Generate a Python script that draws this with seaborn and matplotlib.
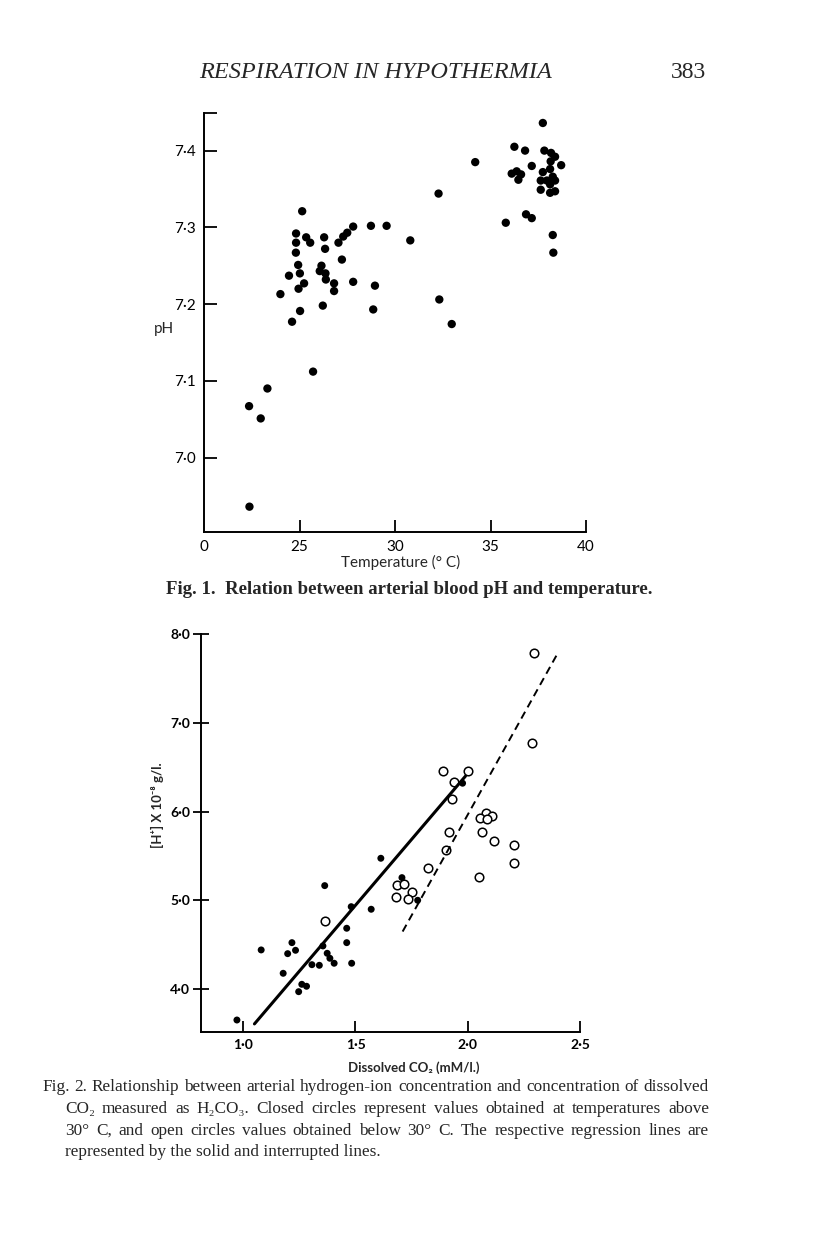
import matplotlib
matplotlib.use('Agg')
import matplotlib.pyplot as plt
import pandas as pd
import seaborn as sns

# Fig. 1: arterial pH vs temperature (deg C)
temp_c = [37.74, 36.25, 36.81, 37.82, 38.17, 38.38, 38.15, 34.20, 37.16, 38.70,
          38.12, 36.11, 36.37, 36.60, 36.46, 37.74, 38.26, 37.95, 37.63, 38.38,
          38.12, 37.63, 38.12, 38.38, 32.28, 35.80, 36.86, 37.16, 38.26, 38.29,
          25.14, 24.82, 24.82, 25.35, 25.56, 26.29, 26.34, 27.04, 27.29, 27.50,
          27.81, 28.74, 29.56, 30.80, 24.81, 24.93, 26.15, 27.22, 24.45, 25.02,
          26.06, 26.36, 26.38, 25.24, 24.95, 26.81, 26.81, 27.81, 28.95, 24.00,
          32.32, 25.03, 26.22, 24.61, 28.86, 32.97, 25.71, 23.32, 22.36, 22.97,
          22.38]
ph = [7.436, 7.405, 7.400, 7.400, 7.397, 7.392, 7.386, 7.385, 7.380, 7.381,
      7.376, 7.370, 7.373, 7.369, 7.362, 7.372, 7.366, 7.361, 7.361, 7.361,
      7.356, 7.349, 7.345, 7.347, 7.344, 7.306, 7.317, 7.312, 7.290, 7.267,
      7.321, 7.292, 7.280, 7.287, 7.280, 7.287, 7.272, 7.280, 7.288, 7.293,
      7.301, 7.302, 7.302, 7.283, 7.267, 7.251, 7.250, 7.258, 7.237, 7.240,
      7.243, 7.240, 7.232, 7.227, 7.220, 7.227, 7.217, 7.229, 7.224, 7.213,
      7.206, 7.191, 7.198, 7.177, 7.193, 7.174, 7.112, 7.090, 7.067, 7.051,
      6.936]
temp_ticks = [20, 25, 30, 35, 40]
temp_labels = ['0', '25', '30', '35', '40']
ph_ticks = [7.0, 7.1, 7.2, 7.3, 7.4, 7.449]
ph_labels = ['7·0', '7·1', '7·2', '7·3', '7·4', '']

# Fig. 2: [H+] vs dissolved CO2, closed = above 30 C, open = below 30 C
co2_closed = [1.977, 1.613, 1.707, 1.363, 1.777, 1.481, 1.570, 1.461, 1.461, 1.355,
              1.217, 1.080, 1.198, 1.233, 1.374, 1.386, 1.405, 1.306, 1.339, 1.483,
              1.178, 1.261, 1.282, 1.247, 0.972]
h_closed = [6.320, 5.475, 5.257, 5.167, 5.002, 4.930, 4.901, 4.687, 4.525, 4.488,
            4.525, 4.443, 4.401, 4.439, 4.405, 4.349, 4.293, 4.277, 4.270, 4.293,
            4.180, 4.056, 4.034, 3.973, 3.654]
co2_open = [2.296, 2.287, 1.891, 2.002, 1.939, 1.930, 2.080, 2.054, 2.109, 2.084,
            1.916, 2.065, 2.117, 2.207, 1.903, 2.206, 1.824, 2.051, 1.683, 1.716,
            1.751, 1.679, 1.732, 1.364]
h_open = [7.784, 6.770, 6.462, 6.462, 6.331, 6.140, 5.989, 5.932, 5.955, 5.914,
          5.775, 5.768, 5.673, 5.625, 5.569, 5.426, 5.362, 5.268, 5.175, 5.182,
          5.099, 5.036, 5.020, 4.769]
# regression lines as drawn on the page (end points)
solid_co2 = [1.05, 1.99]
solid_h = [3.61, 6.40]
dash_co2 = [1.71, 2.40]
dash_h = [4.65, 7.78]
co2_ticks = [1.0, 1.5, 2.0, 2.5]
co2_labels = ['1·0', '1·5', '2·0', '2·5']
h_ticks = [4.0, 5.0, 6.0, 7.0, 8.0]
h_labels = ['4·0', '5·0', '6·0', '7·0', '8·0']

sns.set_theme(style='ticks')
plt.rcParams['font.family'] = ['Lato', 'DejaVu Sans']

W, H = 816, 1233
fig = plt.figure(figsize=(W / 100, H / 100), dpi=100)
serif = ['Liberation Serif', 'DejaVu Serif']


def rect(x0, y0, x1, y1):
    return [x0 / W, 1 - y1 / H, (x1 - x0) / W, (y1 - y0) / H]


# ---- Fig. 1 ----
ax1 = fig.add_axes(rect(204, 113, 586, 532))
df1 = pd.DataFrame({'temp': temp_c, 'ph': ph})
sns.scatterplot(data=df1, x='temp', y='ph', ax=ax1, color='black', s=36,
                edgecolor='none', clip_on=False)
ax1.set_xlim(20, 40)
ax1.set_ylim(6.903, 7.449)
ax1.set_xticks(temp_ticks)
ax1.set_xticklabels(temp_labels)
ax1.set_yticks(ph_ticks)
ax1.set_yticklabels(ph_labels)
ax1.tick_params(axis='both', direction='in', length=9, width=1.3, labelsize=11,
                colors='black', pad=6)
ax1.xaxis.get_major_ticks()[0].tick1line.set_visible(False)
ax1.set_xlabel('')
ax1.set_ylabel('')
sns.despine(ax=ax1)
for sp in ax1.spines.values():
    sp.set_linewidth(1.4)
    sp.set_color('black')

fig.text(164 / W, 1 - 329 / H, 'pH', fontsize=11, ha='center', va='center')
fig.text(401 / W, 1 - 562 / H, 'Temperature (° C)', fontsize=11, ha='center', va='center')
fig.text(409 / W, 1 - 590 / H, 'Fig. 1.  Relation between arterial blood pH and temperature.',
         fontsize=13.5, fontweight='bold', ha='center', va='center', family=serif)

# ---- Fig. 2 ----
ax2 = fig.add_axes(rect(201, 634, 580, 1032))
df_closed = pd.DataFrame({'co2': co2_closed, 'h': h_closed})
df_open = pd.DataFrame({'co2': co2_open, 'h': h_open})
sns.lineplot(x=solid_co2, y=solid_h, ax=ax2, color='black', linewidth=2.2)
sns.lineplot(x=dash_co2, y=dash_h, ax=ax2, color='black', linewidth=1.4,
             linestyle=(0, (4, 2.6)))
sns.scatterplot(data=df_closed, x='co2', y='h', ax=ax2, color='black', s=25,
                edgecolor='none', clip_on=False)
sns.scatterplot(data=df_open, x='co2', y='h', ax=ax2, facecolor='white', s=38,
                edgecolor='black', linewidth=1.1, clip_on=False)
ax2.set_xlim(0.812, 2.5)
ax2.set_ylim(3.519, 8.0)
ax2.set_xticks(co2_ticks)
ax2.set_xticklabels(co2_labels)
ax2.set_yticks(h_ticks)
ax2.set_yticklabels(h_labels)
ax2.tick_params(axis='x', direction='in', length=8, width=1.3, pad=5)
ax2.tick_params(axis='y', direction='inout', length=12, width=1.3, pad=2)
ax2.tick_params(axis='both', labelsize=10, colors='black')
for lab in ax2.get_xticklabels() + ax2.get_yticklabels():
    lab.set_fontweight('bold')
ax2.set_xlabel('')
ax2.set_ylabel('')
sns.despine(ax=ax2)
for sp in ax2.spines.values():
    sp.set_linewidth(1.4)
    sp.set_color('black')

fig.text(157 / W, 1 - 805 / H, '[H⁺] X 10⁻⁸ g/l.', fontsize=9.5, fontweight='bold',
         rotation=90, ha='center', va='center')
fig.text(414 / W, 1 - 1068 / H, 'Dissolved CO₂ (mM/l.)', fontsize=9.5, fontweight='bold',
         ha='center', va='center')

# ---- page text ----
fig.text(376 / W, 1 - 72 / H, 'RESPIRATION IN HYPOTHERMIA', fontsize=17.5, style='italic',
         ha='center', va='center', family=serif)
fig.text(688 / W, 1 - 72 / H, '383', fontsize=17, ha='center', va='center', family=serif)

# caption, justified to the right margin except the last line
caption = [
    (42, 1087, 'Fig. 2.  Relationship between arterial hydrogen-ion concentration and concentration of dissolved', True),
    (65, 1109, 'CO₂ measured as H₂CO₃.  Closed circles represent values obtained at temperatures above', True),
    (65, 1131, '30° C, and open circles values obtained below 30° C. The respective regression lines are', True),
    (65, 1152, 'represented by the solid and interrupted lines.', False),
]
right_edge = 709
renderer = fig.canvas.get_renderer()
for x, y, line, justify in caption:
    if not justify:
        fig.text(x / W, 1 - y / H, line, fontsize=12.4, ha='left', va='center', family=serif)
        continue
    words = line.split()
    texts = [fig.text(0, 1 - y / H, w, fontsize=12.4, ha='left', va='center', family=serif)
             for w in words]
    widths = [t.get_window_extent(renderer).width for t in texts]
    gap = (right_edge - x - sum(widths)) / (len(words) - 1)
    pos = x
    for t, w in zip(texts, widths):
        t.set_x(pos / W)
        pos += w + gap

fig.savefig('out.png', dpi=100, facecolor='white')
